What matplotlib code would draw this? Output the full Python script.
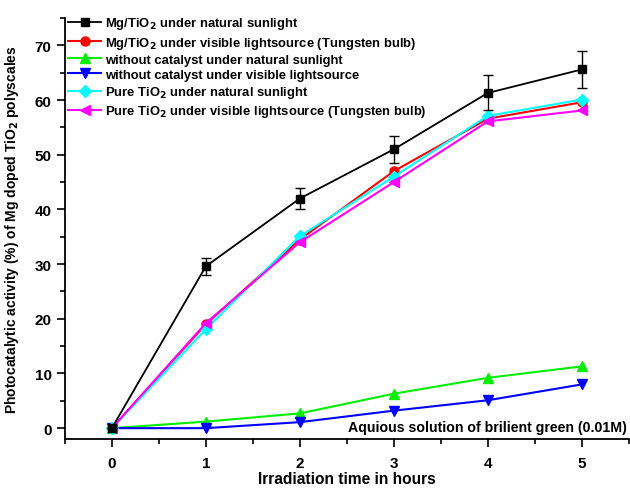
import matplotlib
matplotlib.use('Agg')
import matplotlib.pyplot as plt
from matplotlib.ticker import MultipleLocator

plt.rcParams['font.family'] = ['Liberation Sans', 'DejaVu Sans']
plt.rcParams['font.weight'] = 'bold'

hours = [0, 1, 2, 3, 4, 5]

mg_sun = [0, 29.6, 42.0, 51.0, 61.3, 65.6]
mg_sun_err = [0, 1.5, 2.0, 2.5, 3.2, 3.3]
mg_bulb = [0, 19.0, 34.5, 47.0, 56.6, 59.6]
none_sun = [0, 1.2, 2.7, 6.3, 9.2, 11.3]
none_bulb = [0, 0, 1.1, 3.2, 5.1, 8.0]
pure_sun = [0, 18.1, 35.1, 46.0, 57.1, 60.1]
pure_bulb = [0, 19.2, 34.0, 45.0, 56.1, 58.1]

labels = [
    'Mg/TiO$_\\mathbf{2}$ under natural sunlight',
    'Mg/TiO$_\\mathbf{2}$ under visible lightsource (Tungsten bulb)',
    'without catalyst under natural sunlight',
    'without catalyst under visible lightsource',
    'Pure TiO$_\\mathbf{2}$ under natural sunlight',
    'Pure TiO$_\\mathbf{2}$ under visible lightsource (Tungsten bulb)',
]

fig = plt.figure(figsize=(6.3, 4.89), dpi=100)
ax = fig.add_axes([0.103, 0.1, 0.895, 0.861])

eb = ax.errorbar(hours, mg_sun, yerr=mg_sun_err, color='black', marker='s', ms=6,
                 lw=1.3, capsize=3.5, elinewidth=1, zorder=6)
h1, = ax.plot(hours, mg_bulb, color='#ff0000', marker='o', ms=6.5, lw=1.5)
h2, = ax.plot(hours, none_sun, color='#00ee00', marker='^', ms=7, lw=1.5)
h3, = ax.plot(hours, none_bulb, color='#0000ff', marker='v', ms=7, lw=1.5)
h4, = ax.plot(hours, pure_sun, color='#00ffff', marker='D', ms=6, lw=1.5)
h5, = ax.plot(hours, pure_bulb, color='#ff00ff', marker='<', ms=7, lw=1.5)

ax.set_xlim(-0.5, 5.5)
ax.set_ylim(-2, 75)
ax.xaxis.set_major_locator(MultipleLocator(1))
ax.xaxis.set_minor_locator(MultipleLocator(0.5))
ax.yaxis.set_major_locator(MultipleLocator(10))
ax.yaxis.set_minor_locator(MultipleLocator(5))
ax.spines['top'].set_visible(False)
ax.spines['right'].set_visible(False)
for s in ('left', 'bottom'):
    ax.spines[s].set_linewidth(1.3)
ax.tick_params(which='major', direction='out', length=6, width=1.2, labelsize=11)
ax.tick_params(axis='x', which='major', pad=6)
ax.tick_params(which='minor', direction='out', length=3.5, width=1.2)
for t in ax.get_xticklabels() + ax.get_yticklabels():
    t.set_fontweight('bold')

ax.set_xlabel('Irradiation time in hours', fontsize=11.2, fontweight='bold', labelpad=1)
ax.set_ylabel('Photocatalytic activity (%) of Mg doped TiO$_\\mathbf{2}$ polyscales',
              fontsize=10, fontweight='bold', labelpad=10)

ax.text(0.997, 0.028, 'Aquious solution of brilient green (0.01M)', transform=ax.transAxes,
        ha='right', va='center', fontsize=10.2, fontweight='bold')

ax.legend([eb[0], h1, h2, h3, h4, h5], labels, loc='upper left',
          bbox_to_anchor=(-0.008, 1.025), frameon=False, fontsize=9.4,
          handlelength=2.5, handletextpad=0.3, labelspacing=0.24, borderaxespad=0.2)

fig.savefig('out.png', dpi=100)
